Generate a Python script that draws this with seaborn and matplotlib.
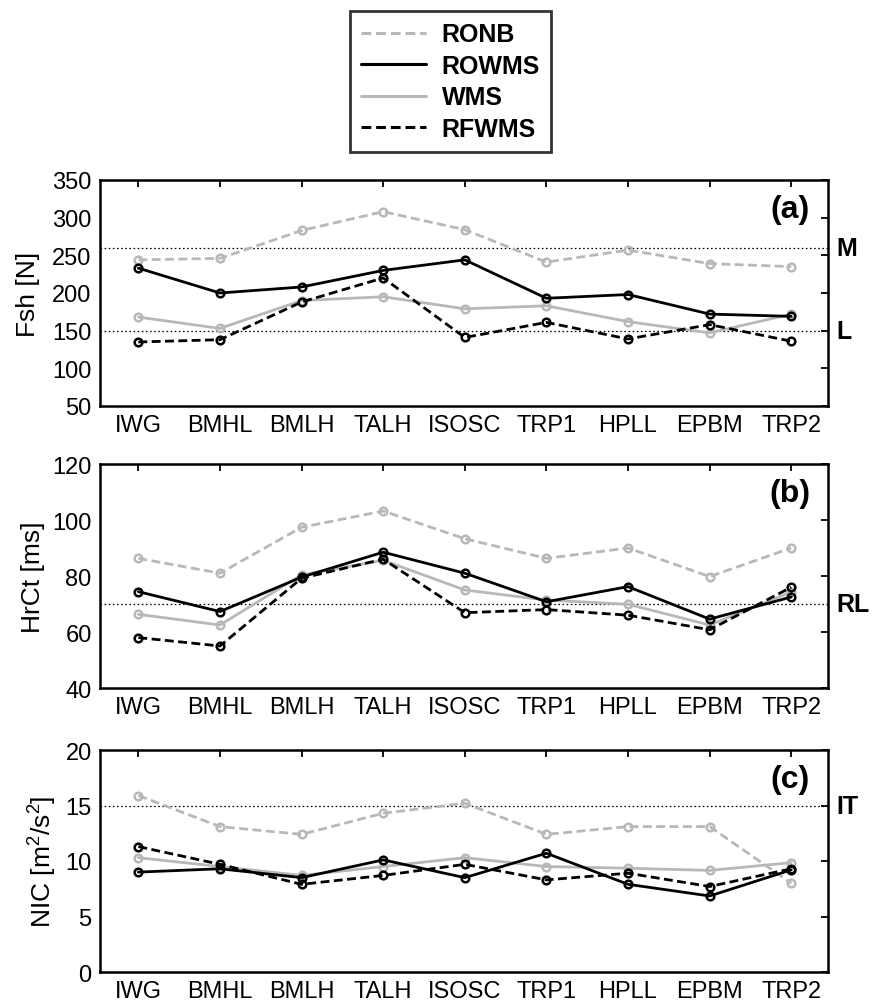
import matplotlib
matplotlib.use("Agg")
import matplotlib.pyplot as plt
import matplotlib.transforms as mtransforms
from matplotlib.lines import Line2D
import seaborn as sns
import pandas as pd

# Tasks along the x axis
categories = ["IWG", "BMHL", "BMLH", "TALH", "ISOSC", "TRP1", "HPLL", "EPBM", "TRP2"]
series_names = ["RONB", "ROWMS", "WMS", "RFWMS"]

# (a) shoulder force Fsh [N]
fsh_ronb = [244, 246, 283, 308, 284, 241, 257, 239, 235]
fsh_rowms = [233, 200, 208, 230, 244, 193, 198, 172, 169]
fsh_wms = [168, 153, 190, 195, 179, 183, 162, 147, 172]
fsh_rfwms = [135, 138, 188, 220, 141, 161, 139, 158, 136]

# (b) HrCt [ms]
hrct_ronb = [86.3, 81.0, 97.4, 103.2, 93.3, 86.3, 90.0, 79.8, 90.0]
hrct_rowms = [74.4, 67.3, 79.6, 88.5, 81.0, 70.8, 76.2, 64.6, 72.5]
hrct_wms = [66.3, 62.5, 80.4, 85.6, 75.0, 71.4, 69.9, 62.5, 74.3]
hrct_rfwms = [58.0, 55.0, 79.2, 86.0, 66.9, 68.0, 66.0, 60.8, 76.0]

# (c) NIC [m^2/s^2]
nic_ronb = [15.9, 13.1, 12.4, 14.3, 15.2, 12.4, 13.1, 13.1, 8.0]
nic_rowms = [9.0, 9.3, 8.5, 10.1, 8.5, 10.7, 7.9, 6.85, 9.2]
nic_wms = [10.3, 9.5, 8.7, 9.5, 10.3, 9.5, 9.35, 9.15, 9.85]
nic_rfwms = [11.3, 9.7, 7.9, 8.7, 9.7, 8.3, 8.9, 7.7, 9.3]

# Reference levels drawn as dotted lines with labels on the right
fsh_refs = [(260, "M"), (150, "L")]
hrct_refs = [(70, "RL")]
nic_refs = [(15, "IT")]

panel_titles = ["(a)", "(b)", "(c)"]
y_labels = ["Fsh [N]", "HrCt [ms]", "NIC [m$^2$/s$^2$]"]
y_limits = [(50, 350), (40, 120), (0, 20)]
y_ticks = [list(range(50, 351, 50)), list(range(40, 121, 20)), list(range(0, 21, 5))]
# right edge of each y-label, in axes fraction
ylabel_x = [-0.082, -0.076, -0.056]

GRAY = "#b8b8b8"
styles = {
    "RONB": dict(color=GRAY, ls=(0, (3.2, 1.6))),
    "ROWMS": dict(color="black", ls="-"),
    "WMS": dict(color=GRAY, ls="-"),
    "RFWMS": dict(color="black", ls=(0, (3.2, 1.6))),
}

sns.set_style("white")
plt.rcParams["font.family"] = ["Liberation Sans", "DejaVu Sans"]
plt.rcParams["mathtext.fontset"] = "custom"
plt.rcParams["mathtext.rm"] = "Liberation Sans"
plt.rcParams["mathtext.it"] = "Liberation Sans"
for key in ["text.color", "axes.labelcolor", "xtick.color", "ytick.color"]:
    plt.rcParams[key] = "black"

fig = plt.figure(figsize=(8.73, 10.03), dpi=100)
W, H = 873, 1003
boxes = [(181, 407), (465, 689), (751, 973)]
left_px, right_px = 100, 828
axes = [fig.add_axes([left_px / W, 1 - b / H, (right_px - left_px) / W, (b - t) / H])
        for t, b in boxes]

panels = [
    [fsh_ronb, fsh_rowms, fsh_wms, fsh_rfwms],
    [hrct_ronb, hrct_rowms, hrct_wms, hrct_rfwms],
    [nic_ronb, nic_rowms, nic_wms, nic_rfwms],
]
refs = [fsh_refs, hrct_refs, nic_refs]

for i, ax in enumerate(axes):
    # light series first so the black ones sit on top
    for name, vals in sorted(zip(series_names, panels[i]),
                             key=lambda p: 0 if styles[p[0]]["color"] == GRAY else 1):
        st = styles[name]
        df = pd.DataFrame({"task": categories, "value": vals})
        sns.lineplot(data=df, x="task", y="value", ax=ax, sort=False,
                     color=st["color"], linestyle=st["ls"], linewidth=2.0,
                     marker="o", markersize=5.5, markerfacecolor="none",
                     markeredgecolor=st["color"], markeredgewidth=1.8)
    for yv, lab in refs[i]:
        ax.axhline(yv, color="black", lw=0.9, ls=(0, (1.3, 2.0)), zorder=1)
        tr = mtransforms.blended_transform_factory(ax.transAxes, ax.transData)
        ax.text(1.012, yv, lab, transform=tr, ha="left", va="center",
                fontsize=18, fontweight="bold", clip_on=False)
    ax.set_xlim(-0.47, 8.45)
    ax.set_ylim(*y_limits[i])
    ax.set_yticks(y_ticks[i])
    ax.set_xticks(range(len(categories)))
    ax.set_xticklabels(categories)
    ax.set_xlabel("")
    ax.set_ylabel(y_labels[i], fontsize=19)
    ax.yaxis.set_label_coords(ylabel_x[i], 0.5)
    ax.tick_params(direction="in", length=5, width=1.3, top=True, right=True,
                   labelsize=17, pad=6)
    for sp in ax.spines.values():
        sp.set_visible(True)
        sp.set_color("black")
        sp.set_linewidth(1.8)
    ax.text(0.948, 0.87, panel_titles[i], transform=ax.transAxes,
            ha="center", va="center", fontsize=23, fontweight="bold")

handles = [Line2D([], [], color=styles[n]["color"], linestyle=styles[n]["ls"], linewidth=2.2)
           for n in series_names]
leg = fig.legend(handles, series_names, loc="upper center",
                 bbox_to_anchor=(0.516, 0.993), frameon=True, fancybox=False,
                 edgecolor="black", handlelength=2.6, handletextpad=0.64,
                 labelspacing=0.3, borderpad=0.45, borderaxespad=0.2,
                 prop=dict(size=18, weight="bold"))
leg.get_frame().set_linewidth(2.0)

fig.savefig("out.png", dpi=100, facecolor="white")
